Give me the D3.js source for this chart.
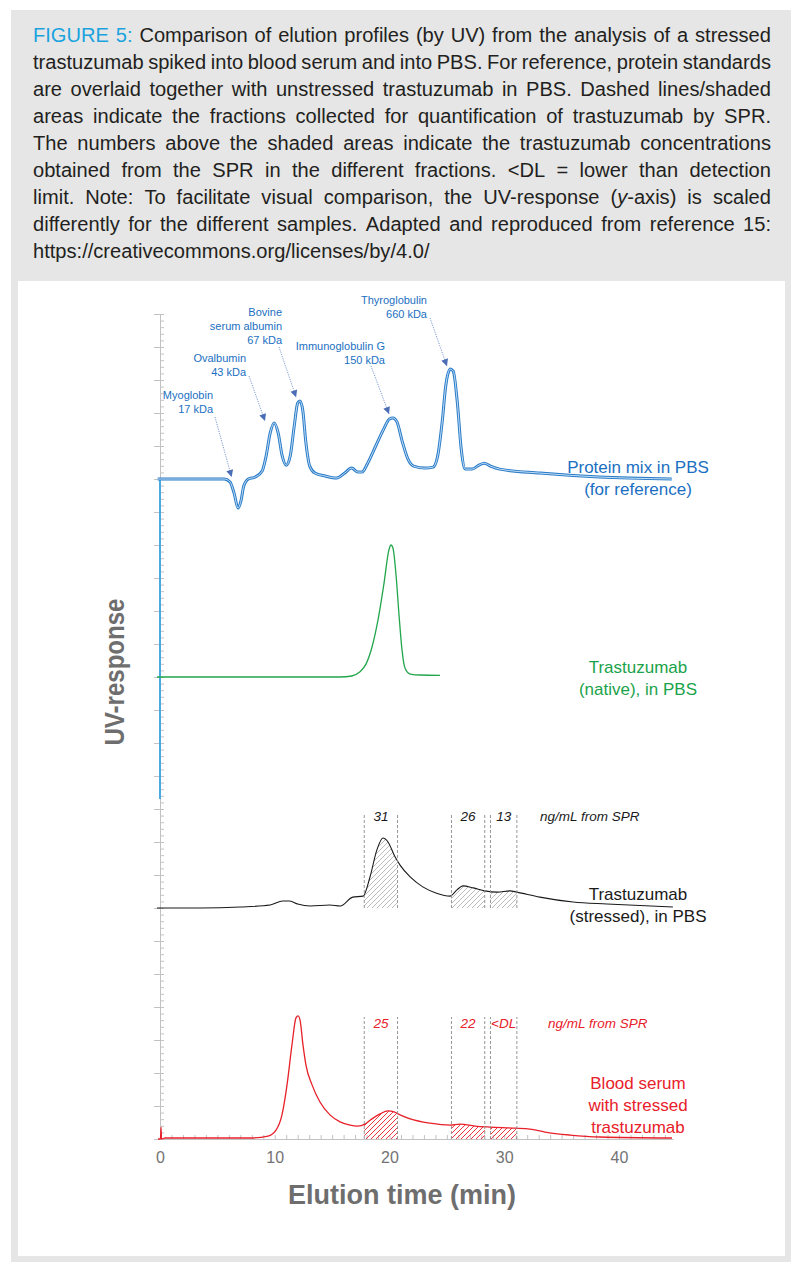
<!DOCTYPE html>
<html>
<head>
<meta charset="utf-8">
<script src="https://cdn.jsdelivr.net/npm/d3@7"></script>
<style>
  body { margin: 0; background: #fff; }
  svg { display: block; font-family: "Liberation Sans", Arial, Helvetica, sans-serif; }
</style>
</head>
<body>
<div id="chart"></div>
<script>
// caption, one entry per printed line (*...* = italic)
const captionLines = [
  "FIGURE 5: Comparison of elution profiles (by UV) from the analysis of a stressed",
  "trastuzumab spiked into blood serum and into PBS. For reference, protein standards",
  "are overlaid together with unstressed trastuzumab in PBS. Dashed lines/shaded",
  "areas indicate the fractions collected for quantification of trastuzumab by SPR.",
  "The numbers above the shaded areas indicate the trastuzumab concentrations",
  "obtained from the SPR in the different fractions. <DL = lower than detection",
  "limit. Note: To facilitate visual comparison, the UV-response (*y*-axis) is scaled",
  "differently for the different samples. Adapted and reproduced from reference 15:",
  "https://creativecommons.org/licenses/by/4.0/"
];

const xTicks = [0, 10, 20, 30, 40];

// fractions collected for SPR (min) and the concentrations found (ng/mL)
const fractions = [[17.8, 20.7], [25.4, 28.3], [28.8, 31.1]];
const sprPBS = ["31", "26", "13"];
const sprSerum = ["25", "22", "<DL"];

// protein standards: label lines and where the arrow points [min, response]
const standardNames = [
  ["Myoglobin", "17 kDa"],
  ["Ovalbumin", "43 kDa"],
  ["Bovine", "serum albumin", "67 kDa"],
  ["Immunoglobulin G", "150 kDa"],
  ["Thyroglobulin", "660 kDa"]
];
const standardTips = [[6.24, 0.06], [9.15, 1.76], [11.86, 2.48], [19.96, 1.97], [25.01, 3.42]];

// traces: [elution time (min), UV response above the trace's own baseline]
const proteinMix = [
  [-0.2, 0], [5.6, 0], [6.1, -0.09], [6.45, -0.42], [6.8, -0.88], [7.05, -0.67], [7.3, -0.21],
  [7.7, 0], [8.3, 0.06], [8.9, 0.24], [9.25, 0.7], [9.6, 1.39], [9.95, 1.7], [10.3, 1.39],
  [10.65, 0.7], [11.0, 0.42], [11.35, 0.7], [11.7, 1.61], [12.0, 2.3], [12.2, 2.36],
  [12.45, 2.06], [12.7, 1.15], [13.05, 0.39], [13.5, 0.18], [14.4, 0.09], [15.4, 0.03],
  [16.1, 0.18], [16.7, 0.33], [17.25, 0.21], [17.6, 0.21], [18.1, 0.48], [18.8, 1.0],
  [19.5, 1.52], [20.0, 1.82], [20.3, 1.85], [20.65, 1.73], [21.1, 1.15], [21.6, 0.61],
  [22.1, 0.39], [23.1, 0.33], [23.8, 0.36], [24.2, 0.7], [24.6, 1.76], [24.9, 2.82],
  [25.3, 3.33], [25.55, 3.27], [25.9, 2.36], [26.25, 0.91], [26.6, 0.3], [27.2, 0.3],
  [27.8, 0.42], [28.25, 0.48], [28.8, 0.39], [29.6, 0.3], [33.1, 0.18], [38.3, 0.06], [44.6, 0]
];
const nativePBS = [
  [-0.26, 0], [15.7, 0], [16.7, 0.03], [17.4, 0.15], [17.95, 0.39], [18.5, 0.94], [19.0, 1.73],
  [19.5, 2.79], [19.95, 3.85], [20.13, 4.0], [20.3, 3.91], [20.57, 3.09], [20.83, 1.88],
  [21.09, 0.82], [21.35, 0.27], [21.8, 0.09], [22.7, 0.06], [24.4, 0.05]
];
const stressedPBS = [
  [-0.26, 0], [3.5, 0], [7.0, 0.03], [9.6, 0.09], [10.7, 0.21], [11.3, 0.21], [12.0, 0.12],
  [13.1, 0.06], [14.8, 0.09], [15.7, 0.06], [16.8, 0.33], [17.7, 0.36], [18.3, 0.94],
  [18.9, 1.76], [19.43, 2.12], [19.87, 2.0], [20.48, 1.55], [20.92, 1.3], [21.8, 0.94],
  [22.9, 0.64], [24.1, 0.45], [25.27, 0.36], [25.88, 0.55], [26.4, 0.67], [27.3, 0.61],
  [28.3, 0.52], [29.4, 0.48], [30.5, 0.52], [31.1, 0.48], [33.1, 0.33], [36.0, 0.18],
  [38.95, 0.12], [44.7, 0.03]
];
const stressedSerum = [
  [-0.17, 0], [0.04, 0], [0.09, 0.36], [0.13, 0], [0.44, 0.03], [7.84, 0.03], [9.41, 0.09],
  [10.11, 0.27], [10.63, 0.73], [11.07, 1.64], [11.5, 2.85], [11.85, 3.67], [12.03, 3.73],
  [12.2, 3.61], [12.46, 2.85], [12.72, 2.24], [13.25, 1.64], [13.94, 1.12], [14.81, 0.73],
  [15.69, 0.52], [16.56, 0.42], [17.25, 0.39], [17.86, 0.45], [18.47, 0.61], [19.17, 0.76],
  [19.87, 0.85], [20.39, 0.82], [20.92, 0.73], [21.79, 0.61], [23.53, 0.48], [25.27, 0.42],
  [26.14, 0.45], [27.45, 0.39], [28.76, 0.36], [30.94, 0.33], [32.24, 0.3], [33.55, 0.21],
  [35.73, 0.12], [38.34, 0.06], [44.62, 0.03]
];

const width = 802, height = 1272;

const svg = d3.select("#chart").append("svg")
  .attr("width", width)
  .attr("height", height);

// grey frame and white plot panel
svg.append("rect").attr("x", 11).attr("y", 10).attr("width", 780).attr("height", 1252).attr("fill", "#e6e6e6");
svg.append("rect").attr("x", 18).attr("y", 281).attr("width", 767).attr("height", 975).attr("fill", "#fff");

// ---- caption, justified word by word ----
const capX = 33, capW = 738;
const cap = svg.append("g").attr("font-size", 21).attr("fill", "#231f20");

const rows = captionLines.map((line, i) => {
  return line.split(" ").map((word, j) => {
    const t = cap.append("text").attr("y", 42 + i * 27);
    if (i === 0 && j < 2) t.attr("fill", "#1aa3df");
    word.split("*").forEach((seg, k) => {
      if (seg) t.append("tspan").attr("font-style", k % 2 ? "italic" : null).text(seg);
    });
    return { node: t, w: t.node().getComputedTextLength() };
  });
});

// squeeze glyphs so the densest line still fits (printed caption uses a condensed face)
let sx = 1;
rows.slice(0, -1).forEach(ws => {
  sx = Math.min(sx, (capW - 4.5 * (ws.length - 1)) / d3.sum(ws, d => d.w));
});

rows.forEach((ws, i) => {
  const last = i === rows.length - 1;
  const total = d3.sum(ws, d => d.w) * sx;
  const gap = last || ws.length < 2 ? 5 : (capW - total) / (ws.length - 1);
  let cx = capX;
  ws.forEach(d => {
    d.node.attr("transform", `translate(${cx},0) scale(${sx},1)`);
    cx += d.w * sx + gap;
  });
});

// ---- chart ----
const x = d3.scaleLinear().domain([0, 44.7]).range([160, 160 + 44.7 * 11.475]);
const y = d3.scaleLinear().domain([0, 25]).range([1139, 314]);

const axisColor = "#c2c2c2";

// y axis: minor ticks to the right, major ticks to the left
const yMinor = svg.append("g").attr("transform", `translate(${x(0)},0)`)
  .call(d3.axisRight(y).tickValues(d3.range(0, 25.01, 0.2)).tickSize(4).tickSizeOuter(0).tickFormat(""));
const yMajor = svg.append("g").attr("transform", `translate(${x(0)},0)`)
  .call(d3.axisLeft(y).tickValues(d3.range(0, 26)).tickSize(6).tickSizeOuter(0).tickFormat(""));
[yMinor, yMajor].forEach(g => {
  g.selectAll("line").attr("stroke", axisColor);
  g.select(".domain").attr("stroke", axisColor);
});

// the part of the original axis still drawn in blue
svg.append("line")
  .attr("x1", x(0)).attr("x2", x(0))
  .attr("y1", y(20)).attr("y2", y(10.3))
  .attr("stroke", "#4aa9e0").attr("stroke-width", 2);

// x axis
const xMinor = svg.append("g").attr("transform", `translate(0,${y(0)})`)
  .call(d3.axisTop(x).tickValues(d3.range(1, 45)).tickSize(4).tickSizeOuter(0).tickFormat(""));
xMinor.selectAll("line").attr("stroke", axisColor);
xMinor.select(".domain").attr("stroke", axisColor);

const xLab = svg.append("g").attr("transform", `translate(0,${y(0)})`)
  .call(d3.axisBottom(x).tickValues(xTicks).tickSize(0).tickPadding(13).tickFormat(d3.format("d")));
xLab.select(".domain").remove();
xLab.selectAll("text").attr("font-size", 16).attr("fill", "#737373")
  .attr("font-family", "Liberation Sans, Arial, sans-serif");

svg.append("text")
  .attr("x", 402).attr("y", 1204)
  .attr("text-anchor", "middle")
  .attr("font-size", 27).attr("font-weight", "bold").attr("fill", "#6e6e6e")
  .text("Elution time (min)");

svg.append("text")
  .attr("transform", "translate(124,672) rotate(-90)")
  .attr("text-anchor", "middle")
  .attr("font-size", 27).attr("font-weight", "bold").attr("fill", "#6e6e6e")
  .attr("textLength", 147).attr("lengthAdjust", "spacingAndGlyphs")
  .text("UV-response");

// hatch patterns
const defs = svg.append("defs");
function hatch(id, color) {
  defs.append("pattern")
    .attr("id", id)
    .attr("patternUnits", "userSpaceOnUse")
    .attr("width", 5).attr("height", 5)
    .append("path")
    .attr("d", "M-1,1 l2,-2 M0,5 l5,-5 M4,6 l2,-2")
    .attr("stroke", color).attr("stroke-width", 0.9);
}
hatch("hatchGrey", "#b3b3b3");
hatch("hatchRed", "#e8202a");

function traceLine(base) {
  return d3.line()
    .x(d => x(d[0]))
    .y(d => y(base + d[1]))
    .curve(d3.curveMonotoneX);
}

function fractionAreas(data, base, fill, id) {
  const area = d3.area()
    .x(d => x(d[0]))
    .y0(y(base))
    .y1(d => y(base + d[1]))
    .curve(d3.curveMonotoneX);
  fractions.forEach((f, i) => {
    defs.append("clipPath").attr("id", `${id}${i}`)
      .append("rect")
      .attr("x", x(f[0])).attr("width", x(f[1]) - x(f[0]))
      .attr("y", 0).attr("height", height);
    svg.append("path")
      .datum(data)
      .attr("d", area)
      .attr("fill", `url(#${fill})`)
      .attr("clip-path", `url(#${id}${i})`);
  });
}

function fractionMarks(base, top, labelY, labels, color, noteX) {
  fractions.forEach((f, i) => {
    f.forEach(t => {
      svg.append("line")
        .attr("x1", x(t)).attr("x2", x(t))
        .attr("y1", y(base)).attr("y2", top)
        .attr("stroke", "#8a8a8a").attr("stroke-width", 0.9)
        .attr("stroke-dasharray", "3,2");
    });
    svg.append("text")
      .attr("x", x((f[0] + f[1]) / 2)).attr("y", labelY)
      .attr("text-anchor", "middle")
      .attr("font-size", 13.5).attr("font-style", "italic").attr("fill", color)
      .text(labels[i]);
  });
  svg.append("text")
    .attr("x", noteX).attr("y", labelY)
    .attr("font-size", 13.5).attr("font-style", "italic").attr("fill", color)
    .text("ng/mL from SPR");
}

function traceLabel(lines, y0, color) {
  const t = svg.append("text")
    .attr("text-anchor", "middle")
    .attr("font-size", 17).attr("fill", color);
  lines.forEach((s, i) => {
    t.append("tspan").attr("x", 638).attr("y", y0 + i * 22).text(s);
  });
}

// protein mix (blue, drawn as a double line)
svg.append("path").datum(proteinMix)
  .attr("d", traceLine(20))
  .attr("fill", "none").attr("stroke", "#2a7cc8").attr("stroke-width", 3);
svg.append("path").datum(proteinMix)
  .attr("d", traceLine(20))
  .attr("fill", "none").attr("stroke", "#d6eafb").attr("stroke-width", 0.9);
traceLabel(["Protein mix in PBS", "(for reference)"], 473, "#1b6fc2");

// protein standard labels and arrows
const blue = "#1b6fc2";
defs.append("marker")
  .attr("id", "arrowHead")
  .attr("viewBox", "0 0 10 10")
  .attr("refX", 10).attr("refY", 5)
  .attr("markerUnits", "userSpaceOnUse")
  .attr("markerWidth", 9).attr("markerHeight", 7)
  .attr("orient", "auto")
  .append("path").attr("d", "M0,0 L10,5 L0,10 Z").attr("fill", "#4a6db5");

const labelRight = [213, 246, 282, 385, 427];
const labelFirst = [399, 362, 316, 350, 304];
const arrowFrom = [[215, 417], [249, 376], [279, 347], [371, 366], [430, 318]];

standardNames.forEach((lines, i) => {
  const t = svg.append("text")
    .attr("text-anchor", "end")
    .attr("font-size", 11).attr("fill", blue);
  lines.forEach((s, j) => {
    t.append("tspan").attr("x", labelRight[i]).attr("y", labelFirst[i] + j * 14).text(s);
  });
  svg.append("line")
    .attr("x1", arrowFrom[i][0]).attr("y1", arrowFrom[i][1])
    .attr("x2", x(standardTips[i][0])).attr("y2", y(20 + standardTips[i][1]))
    .attr("stroke", "#5a7fc2").attr("stroke-width", 0.8)
    .attr("stroke-dasharray", "1.2,1.2")
    .attr("marker-end", "url(#arrowHead)");
});

// native trastuzumab (green)
svg.append("path").datum(nativePBS)
  .attr("d", traceLine(14))
  .attr("fill", "none").attr("stroke", "#22a64c").attr("stroke-width", 1.3);
traceLabel(["Trastuzumab", "(native), in PBS"], 673, "#1ba24b");

// stressed trastuzumab in PBS (black)
fractionAreas(stressedPBS, 7, "hatchGrey", "clipPBS");
svg.append("path").datum(stressedPBS)
  .attr("d", traceLine(7))
  .attr("fill", "none").attr("stroke", "#1a1a1a").attr("stroke-width", 1.1);
fractionMarks(7, 814, 821, sprPBS, "#1a1a1a", 540);
traceLabel(["Trastuzumab", "(stressed), in PBS"], 900, "#1a1a1a");

// stressed trastuzumab in serum (red)
fractionAreas(stressedSerum, 0, "hatchRed", "clipSerum");
svg.append("path").datum(stressedSerum)
  .attr("d", traceLine(0))
  .attr("fill", "none").attr("stroke", "#e8202a").attr("stroke-width", 1.3);
fractionMarks(0, 1017, 1028, sprSerum, "#e8202a", 548);
traceLabel(["Blood serum", "with stressed", "trastuzumab"], 1089, "#e8202a");
</script>
</body>
</html>
